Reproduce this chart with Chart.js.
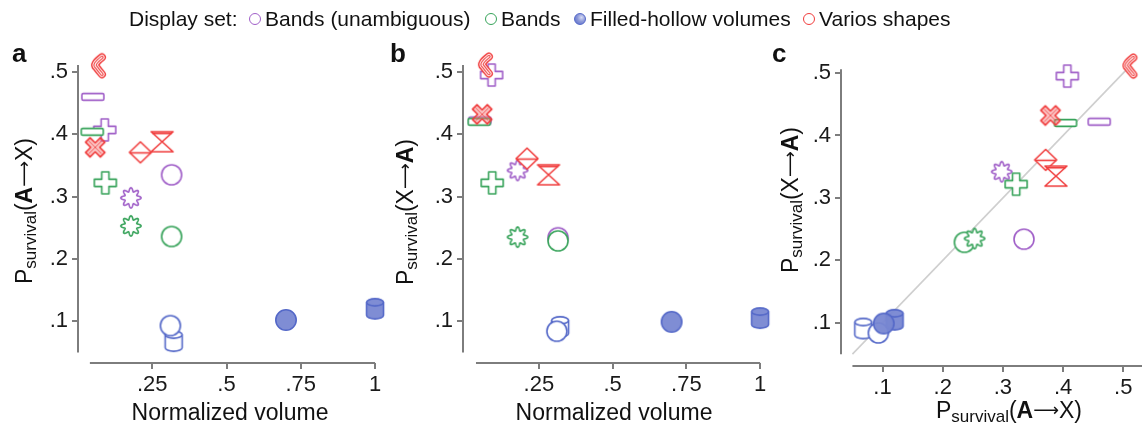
<!DOCTYPE html>
<html>
<head>
<meta charset="utf-8">
<script src="https://cdn.jsdelivr.net/npm/chart.js@4.4.1/dist/chart.umd.min.js"></script>
<style>
  html, body { margin: 0; padding: 0; background: #fff; }
  #wrap { position: relative; width: 1142px; height: 425px; overflow: hidden;
          font-family: "Liberation Sans", Arial, Helvetica, sans-serif; }
  #wrap canvas { position: absolute; top: 0; }
  .leg { position: absolute; top: 5px; font-size: 21px; line-height: 28px; color: #111; white-space: nowrap; }
  .dot { position: absolute; top: 13px; width: 12px; height: 12px; border-radius: 50%;
         box-sizing: border-box; border: 1.4px solid; background: #fff; }
</style>
</head>
<body>
<div id="wrap">
  <canvas id="panelA" width="400" height="425" style="left:0px"></canvas>
  <canvas id="panelB" width="400" height="425" style="left:380px"></canvas>
  <canvas id="panelC" width="372" height="425" style="left:770px"></canvas>

  <div class="leg" style="left:129px">Display set:</div>
  <span class="dot" style="left:249px;border-color:#a05fc8"></span>
  <div class="leg" style="left:265px">Bands (unambiguous)</div>
  <span class="dot" style="left:485px;border-color:#37a35a"></span>
  <div class="leg" style="left:501px">Bands</div>
  <span class="dot" style="left:574px;border-color:#5468c8;background:radial-gradient(circle at 65% 35%, #d6dbf4 0%, #8c98d8 45%, #5468c8 100%)"></span>
  <div class="leg" style="left:590px">Filled-hollow volumes</div>
  <span class="dot" style="left:803px;border-color:#f03c3c"></span>
  <div class="leg" style="left:819px">Varios shapes</div>
</div>

<script>
// ---- data -------------------------------------------------------------
const displaySets = ['Bands (unambiguous)', 'Bands', 'Filled-hollow volumes', 'Varios shapes'];

// shapes used in each display set
const bandShapes    = ['circle', 'gear', 'plus', 'minus'];
const volumeShapes  = ['hollowCylinder', 'hollowCircle', 'filledCylinder', 'filledCircle'];
const variousShapes = ['crescent', 'cross', 'diamond', 'hourglass'];

// Bands (unambiguous)
const unambVolume = [0.315, 0.178, 0.090, 0.050];
const unambAtoX   = [0.335, 0.298, 0.407, 0.460];
const unambXtoA   = [0.234, 0.342, 0.495, 0.422];

// Bands
const bandsVolume = [0.315, 0.178, 0.092, 0.048];
const bandsAtoX   = [0.236, 0.253, 0.322, 0.404];
const bandsXtoA   = [0.229, 0.235, 0.322, 0.420];

// Filled-hollow volumes
const fhVolume = [0.322, 0.311, 1.000, 0.700];
const fhAtoX   = [0.068, 0.093, 0.120, 0.102];
const fhXtoA   = [0.091, 0.084, 0.105, 0.099];

// Varios shapes
const variousVolume = [0.067, 0.058, 0.210, 0.283];
const variousAtoX   = [0.510, 0.379, 0.371, 0.388];
const variousXtoA   = [0.511, 0.432, 0.361, 0.335];

// identity reference in panel c
const identityLine = [0.05, 0.525];

// tick values
const volumeTicks    = [0.25, 0.5, 0.75, 1];
const survivalTicks  = [0.1, 0.2, 0.3, 0.4, 0.5];
const survivalXTicks = [0.1, 0.2, 0.3, 0.4, 0.5];

// ---- styling ----------------------------------------------------------
const FONT = '"Liberation Sans", Arial, Helvetica, sans-serif';
const AXIS = '#7d7d7d';
const COLORS = {
  purple: '#a05fc8',
  green: '#37a35a',
  blue: '#5468c8',
  blueFill: 'rgba(120,135,210,0.95)',
  red: '#f03c3c'
};

// ---- marker glyphs (used as Chart.js image point styles) ---------------
function polygon(g, pts) {
  g.beginPath();
  pts.forEach((p, i) => i ? g.lineTo(p[0], p[1]) : g.moveTo(p[0], p[1]));
  g.closePath();
}
function plusPts(w, L) {
  return [[-w,-L],[w,-L],[w,-w],[L,-w],[L,w],[w,w],[w,L],[-w,L],[-w,w],[-L,w],[-L,-w],[-w,-w]];
}
function cylinderPath(g, rx, ry, h) {
  const top = -h / 2, bot = h / 2;
  g.beginPath();
  g.moveTo(-rx, top);
  g.lineTo(-rx, bot);
  g.ellipse(0, bot, rx, ry, 0, Math.PI, 0, true);
  g.lineTo(rx, top);
  g.ellipse(0, top, rx, ry, 0, 0, Math.PI, true);
  g.closePath();
}
function marker(shape, color) {
  const c = document.createElement('canvas');
  c.width = 30; c.height = 30;
  const g = c.getContext('2d');
  g.translate(15, 15);
  g.lineWidth = 1.6;
  g.strokeStyle = color;
  g.fillStyle = '#fff';
  g.lineJoin = 'round';
  switch (shape) {
    case 'circle':
    case 'hollowCircle':
      g.beginPath(); g.arc(0, 0, 10, 0, Math.PI * 2); g.fill(); g.stroke();
      break;
    case 'filledCircle':
      g.fillStyle = COLORS.blueFill;
      g.beginPath(); g.arc(0, 0, 10.2, 0, Math.PI * 2); g.fill(); g.stroke();
      break;
    case 'gear': {
      g.beginPath();
      for (let i = 0; i <= 240; i++) {
        const t = i / 240 * Math.PI * 2;
        const r = 8.2 + 1.9 * Math.cos(8 * t);
        const px = r * Math.cos(t), py = r * Math.sin(t);
        i ? g.lineTo(px, py) : g.moveTo(px, py);
      }
      g.closePath(); g.fill(); g.stroke();
      break;
    }
    case 'plus':
      polygon(g, plusPts(3.6, 11)); g.fill(); g.stroke();
      break;
    case 'minus':
      g.beginPath(); g.roundRect(-11, -3.4, 22, 6.8, 1.5); g.fill(); g.stroke();
      break;
    case 'hollowCylinder':
    case 'filledCylinder': {
      const filled = shape === 'filledCylinder';
      g.fillStyle = filled ? COLORS.blueFill : '#fff';
      cylinderPath(g, 8.5, 3.6, 13);
      g.fill(); g.stroke();
      g.beginPath(); g.ellipse(0, -6.5, 8.5, 3.6, 0, 0, Math.PI); g.stroke();
      break;
    }
    case 'crescent': {
      const path = () => { g.beginPath(); g.moveTo(4, -8.5); g.quadraticCurveTo(-5.5, -1, -2, 1); g.quadraticCurveTo(1, 5, 4, 8.5); };
      g.lineCap = 'round';
      [[8, color], [5.2, '#fff'], [3.4, color], [1.2, '#fff']].forEach(([w, s]) => {
        path(); g.lineWidth = w; g.strokeStyle = s; g.stroke();
      });
      break;
    }
    case 'cross': {
      g.rotate(Math.PI / 4);
      polygon(g, plusPts(3.2, 10.5));
      g.fillStyle = 'rgba(245,120,120,0.45)'; g.fill(); g.stroke();
      g.lineWidth = 0.9; g.strokeStyle = 'rgba(240,60,60,0.8)';
      g.beginPath(); g.moveTo(-9, 0); g.lineTo(9, 0); g.moveTo(0, -9); g.lineTo(0, 9); g.stroke();
      break;
    }
    case 'diamond':
      polygon(g, [[0,-10.5],[11,0],[0,10.5],[-11,0]]); g.fill(); g.stroke();
      g.beginPath(); g.moveTo(-11, 0.5); g.lineTo(11, 0.5); g.stroke();
      break;
    case 'hourglass':
      polygon(g, [[-11,-10],[11,-10],[0,0],[11,10],[-11,10],[0,0]]); g.fill(); g.stroke();
      g.beginPath(); g.moveTo(-9.5, -8.3); g.lineTo(9.5, -8.3); g.stroke();
      break;
  }
  return c;
}

const styleCache = {};
function glyphs(shapes, color) {
  return shapes.map(s => (styleCache[s + color] = styleCache[s + color] || marker(s, color)));
}

// ---- plugins ----------------------------------------------------------
const axisLines = {
  id: 'axisLines',
  beforeDatasetsDraw(chart, args, opts) {
    const { ctx, chartArea, scales: { x, y } } = chart;
    ctx.save();
    ctx.strokeStyle = AXIS;
    ctx.lineWidth = 2;
    ctx.beginPath();
    ctx.moveTo(x.getPixelForValue(opts.x[0]), chartArea.bottom);
    ctx.lineTo(Math.min(x.getPixelForValue(opts.x[1]), chart.width), chartArea.bottom);
    ctx.moveTo(chartArea.left, y.getPixelForValue(opts.y[0]));
    ctx.lineTo(chartArea.left, y.getPixelForValue(opts.y[1]));
    ctx.stroke();
    ctx.restore();
  }
};

function drawRich(ctx, item) {
  ctx.save();
  ctx.translate(item.x, item.y);
  if (item.rotate) ctx.rotate(-Math.PI / 2);
  ctx.fillStyle = '#111';
  ctx.textBaseline = 'alphabetic';
  ctx.textAlign = 'left';
  const widths = item.segments.map(s => { ctx.font = s.font; return ctx.measureText(s.text).width; });
  const total = widths.reduce((a, b) => a + b, 0);
  let cx = item.align === 'left' ? 0 : -total / 2;
  item.segments.forEach((s, i) => {
    ctx.font = s.font;
    ctx.fillText(s.text, cx, s.dy || 0);
    cx += widths[i];
  });
  ctx.restore();
}
const richText = {
  id: 'richText',
  afterDraw(chart, args, opts) { opts.items.forEach(it => drawRich(chart.ctx, it)); }
};

const MAIN = '23px ' + FONT, SUB = '17px ' + FONT, BOLD = 'bold 23px ' + FONT;
const ARROW = '18px "DejaVu Sans", sans-serif';
const pAtoX = [
  { text: 'P', font: MAIN }, { text: 'survival', font: SUB, dy: 4 },
  { text: '(', font: MAIN }, { text: 'A', font: BOLD }, { text: '\u27F6', font: ARROW, dy: -2 }, { text: 'X)', font: MAIN }
];
const pXtoA = [
  { text: 'P', font: MAIN }, { text: 'survival', font: SUB, dy: 4 },
  { text: '(X', font: MAIN }, { text: '\u27F6', font: ARROW, dy: -2 }, { text: 'A', font: BOLD }, { text: ')', font: MAIN }
];
const volumeTitle = [{ text: 'Normalized volume', font: MAIN }];
const letter = t => [{ text: t, font: 'bold 26px ' + FONT }];

// ---- chart factory ----------------------------------------------------
const fmt = v => (v >= 1 ? String(v) : String(+v.toFixed(2)).replace(/^0\./, '.'));

function scatterSets(xs) {
  const sets = [
    { label: displaySets[3], x: xs[3], y: xs[7], shapes: variousShapes, color: COLORS.red },
    { label: displaySets[2], x: xs[2], y: xs[6], shapes: volumeShapes, color: COLORS.blue },
    { label: displaySets[1], x: xs[1], y: xs[5], shapes: bandShapes, color: COLORS.green },
    { label: displaySets[0], x: xs[0], y: xs[4], shapes: bandShapes, color: COLORS.purple }
  ];
  return sets.map((s, k) => ({
    type: 'scatter',
    label: s.label,
    data: s.x.map((v, i) => ({ x: v, y: s.y[i] })),
    pointStyle: glyphs(s.shapes, s.color),
    pointRadius: 10,
    borderColor: s.color,
    backgroundColor: s.color,
    clip: false,
    order: k
  }));
}

function makePanel(id, p) {
  const datasets = scatterSets(p.series);
  if (p.identity) {
    datasets.push({
      type: 'line',
      data: p.identity.map(v => ({ x: v, y: v })),
      borderColor: '#cfcfcf',
      borderWidth: 1.6,
      pointRadius: 0,
      order: 10
    });
  }
  const tickFont = { family: FONT, size: 22 };
  return new Chart(document.getElementById(id), {
    type: 'scatter',
    data: { datasets },
    options: {
      responsive: false,
      animation: false,
      events: [],
      layout: { padding: p.padding },
      plugins: {
        legend: { display: false },
        tooltip: { enabled: false },
        axisLines: p.axisLines,
        richText: { items: p.texts }
      },
      scales: {
        x: {
          type: 'linear', min: p.x[0], max: p.x[1],
          afterBuildTicks: s => { s.ticks = p.xTicks.map(v => ({ value: v })); },
          afterFit: s => { s.height = p.xAxisH; },
          grid: { drawOnChartArea: false, tickLength: 6, color: AXIS, lineWidth: 2 },
          border: { display: false },
          ticks: { font: tickFont, color: '#1a1a1a', padding: 3, maxRotation: 0, autoSkip: false, callback: fmt }
        },
        y: {
          type: 'linear', min: p.y[0], max: p.y[1],
          afterBuildTicks: s => { s.ticks = p.yTicks.map(v => ({ value: v })); },
          afterFit: s => { s.width = p.yAxisW; },
          grid: { drawOnChartArea: false, tickLength: 6, color: AXIS, lineWidth: 2 },
          border: { display: false },
          ticks: { font: tickFont, color: '#1a1a1a', padding: 4, autoSkip: false, callback: fmt }
        }
      }
    },
    plugins: [axisLines, richText]
  });
}

// panel a: normalized volume vs P(A->X)
makePanel('panelA', {
  series: [unambVolume, bandsVolume, fhVolume, variousVolume, unambAtoX, bandsAtoX, fhAtoX, variousAtoX],
  x: [0, 1.02], y: [0.033, 0.54],
  xTicks: volumeTicks, yTicks: survivalTicks,
  yAxisW: 78, xAxisH: 62,
  padding: { left: 0, right: 19, top: 47, bottom: 0 },
  axisLines: { x: [0.04, 1], y: [0.05, 0.511] },
  texts: [
    { segments: letter('a'), x: 12, y: 62, align: 'left' },
    { segments: pAtoX, x: 32, y: 211, rotate: true },
    { segments: volumeTitle, x: 230, y: 420 }
  ]
});

// panel b: normalized volume vs P(X->A)
makePanel('panelB', {
  series: [unambVolume, bandsVolume, fhVolume, variousVolume, unambXtoA, bandsXtoA, fhXtoA, variousXtoA],
  x: [-0.007, 1.02], y: [0.033, 0.54],
  xTicks: volumeTicks, yTicks: survivalTicks,
  yAxisW: 83, xAxisH: 62,
  padding: { left: 0, right: 14, top: 47, bottom: 0 },
  axisLines: { x: [0.037, 1], y: [0.05, 0.511] },
  texts: [
    { segments: letter('b'), x: 10, y: 62, align: 'left' },
    { segments: pXtoA, x: 33, y: 212, rotate: true },
    { segments: volumeTitle, x: 234, y: 420 }
  ]
});

// panel c: P(A->X) vs P(X->A)
makePanel('panelC', {
  series: [unambAtoX, bandsAtoX, fhAtoX, variousAtoX, unambXtoA, bandsXtoA, fhXtoA, variousXtoA],
  x: [0.031, 0.5128], y: [0.031, 0.54],
  xTicks: survivalXTicks, yTicks: survivalTicks,
  yAxisW: 71, xAxisH: 59,
  padding: { left: 0, right: 0, top: 48, bottom: 0 },
  axisLines: { x: [0.05, 0.6], y: [0.05, 0.506] },
  identity: identityLine,
  texts: [
    { segments: letter('c'), x: 2, y: 62, align: 'left' },
    { segments: pXtoA, x: 28, y: 200, rotate: true },
    { segments: pAtoX, x: 239, y: 418 }
  ]
});
</script>
</body>
</html>
